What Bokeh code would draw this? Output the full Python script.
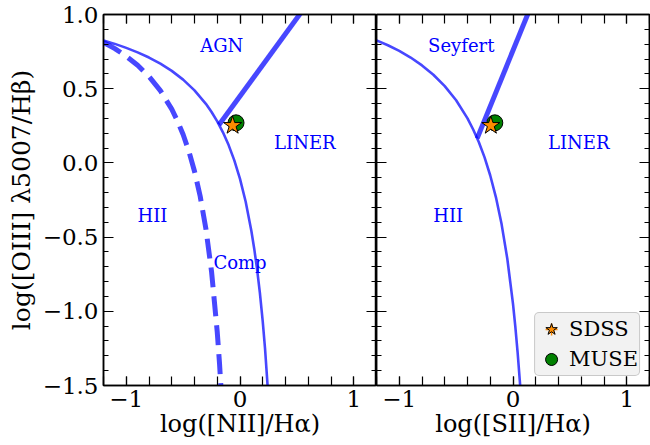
from bokeh.plotting import figure
from bokeh.layouts import row
from bokeh.models import (LinearAxis, SingleIntervalTicker, Label, Legend,
                          LegendItem, Range1d, CustomLabelingPolicy)
from bokeh.embed import file_html
from bokeh.resources import INLINE

# ---- demarcation curves -------------------------------------------------
# Kewley et al. (2001) maximum-starburst line, [NII] diagram
nii_kewley_x = [-1.2, -1.1, -1.0, -0.9, -0.8, -0.7, -0.6, -0.5, -0.4, -0.3,
                -0.25, -0.2, -0.15, -0.1, -0.05, 0.0, 0.05, 0.1, 0.125,
                0.15, 0.175, 0.2, 0.22, 0.25]
nii_kewley_y = [0.825, 0.802, 0.775, 0.745, 0.710, 0.669, 0.620, 0.561,
                0.489, 0.398, 0.343, 0.280, 0.206, 0.120, 0.017, -0.108,
                -0.262, -0.459, -0.578, -0.716, -0.878, -1.069, -1.250,
                -1.583]
# Kauffmann et al. (2003) star-forming boundary, [NII] diagram
nii_kauff_x = [-1.2, -1.1, -1.0, -0.9, -0.8, -0.7, -0.6, -0.55, -0.5, -0.45,
               -0.4, -0.35, -0.3, -0.25, -0.2, -0.18, -0.16]
nii_kauff_y = [0.812, 0.770, 0.719, 0.658, 0.582, 0.487, 0.362, 0.283,
               0.191, 0.080, -0.056, -0.225, -0.443, -0.733, -1.140,
               -1.352, -1.605]
# AGN / LINER division, [NII] diagram
nii_agn_x = [-0.184, 0.60]
nii_agn_y = [0.257, 1.08]
# Kewley et al. (2001) maximum-starburst line, [SII] diagram
sii_kewley_x = [-1.2, -1.1, -1.0, -0.9, -0.8, -0.7, -0.6, -0.5, -0.4, -0.35,
                -0.3, -0.25, -0.2, -0.15, -0.1, -0.05, 0.0, 0.02, 0.04,
                0.06, 0.07]
sii_kewley_y = [0.826, 0.793, 0.755, 0.710, 0.657, 0.594, 0.517, 0.422,
                0.300, 0.225, 0.139, 0.037, -0.085, -0.232, -0.414, -0.646,
                -0.950, -1.100, -1.271, -1.469, -1.580]
# Seyfert / LINER division, [SII] diagram
sii_seyfert_x = [-0.315, 0.15]
sii_seyfert_y = [0.165, 1.04]

# ---- measured line ratios ------------------------------------------------
sdss_log_nii = [-0.065]
sdss_log_sii = [-0.195]
sdss_log_oiii = [0.252]
muse_log_nii = [-0.035]
muse_log_sii = [-0.16]
muse_log_oiii = [0.27]

# ---- ticks ---------------------------------------------------------------
x_tick_values = [-1, 0, 1]
x_tick_labels = ["\u22121", "0", "1"]
y_tick_values = [1.0, 0.5, 0.0, -0.5, -1.0, -1.5]
y_tick_labels = ["1.0", "0.5", "0.0", "\u22120.5", "\u22121.0", "\u22121.5"]

FONT = "DejaVu Serif"
LINE_COLOR = "blue"
LINE_ALPHA = 0.72
X_RANGE = (-1.2, 1.2)
Y_RANGE = (-1.5, 1.0)
H = 445


def style_axis(ax, dim, labelled):
    if dim == "x":
        ax.ticker = SingleIntervalTicker(interval=1, num_minor_ticks=5)
        ax.major_tick_in, ax.minor_tick_in = 9, 9
        ax.major_label_overrides = dict(zip(x_tick_values, x_tick_labels))
        ax.axis_label_text_font_size = "24px"
    else:
        ax.ticker = SingleIntervalTicker(interval=0.5, num_minor_ticks=5)
        ax.major_tick_in, ax.minor_tick_in = 10, 5
        ax.major_label_overrides = dict(zip(y_tick_values, y_tick_labels))
        ax.axis_label_text_font_size = "25px"
    ax.major_tick_out = 0
    ax.minor_tick_out = 0
    ax.axis_line_color = "black"
    ax.axis_line_width = 1.5
    ax.major_tick_line_color = "black"
    ax.minor_tick_line_color = "black"
    ax.major_tick_line_width = 1.2
    ax.minor_tick_line_width = 1.2
    ax.major_label_text_font = FONT
    ax.major_label_text_color = "black"
    ax.axis_label_text_font = FONT
    ax.axis_label_text_font_style = "normal"
    ax.axis_label_text_color = "black"
    if labelled:
        ax.major_label_text_font_size = "23px"
        ax.major_label_standoff = 5
    else:
        # tick marks only: no tick labels on the mirrored spines
        ax.major_label_text_font_size = "0px"
        ax.major_label_standoff = 0
        ax.major_label_policy = CustomLabelingPolicy(code="return []")


def panel(width, border_left, border_right, xlabel, ylabel):
    p = figure(width=width, height=H, x_range=Range1d(*X_RANGE),
               y_range=Range1d(*Y_RANGE), output_backend="svg",
               toolbar_location=None, min_border_left=border_left,
               min_border_right=border_right, min_border_top=14,
               min_border_bottom=60)
    p.grid.visible = False
    p.outline_line_color = "black"
    p.outline_line_width = 1.5
    p.background_fill_color = "white"
    p.border_fill_color = "white"

    style_axis(p.xaxis[0], "x", True)
    p.xaxis[0].axis_label = xlabel
    p.xaxis[0].axis_label_standoff = 0
    style_axis(p.yaxis[0], "y", ylabel is not None)
    if ylabel is not None:
        p.yaxis[0].axis_label = ylabel
        p.yaxis[0].axis_label_standoff = 4

    top = LinearAxis()
    style_axis(top, "x", False)
    p.add_layout(top, "above")
    right = LinearAxis()
    style_axis(right, "y", False)
    p.add_layout(right, "right")
    return p


def region_label(p, x, y, text):
    p.add_layout(Label(x=x, y=y, text=text, text_align="center",
                       text_baseline="middle", text_color="blue",
                       text_font=FONT, text_font_size="18px"))


# ---- [NII] panel ---------------------------------------------------------
left = panel(376, 103, 0, "log([NII]/H\u03b1)",
             "log([OIII] \u03bb5007/H\u03b2)")
left.line(nii_kewley_x, nii_kewley_y, line_color=LINE_COLOR,
          line_alpha=LINE_ALPHA, line_width=2.6)
left.line(nii_kauff_x, nii_kauff_y, line_color=LINE_COLOR,
          line_alpha=LINE_ALPHA, line_width=5, line_dash="20 9")
left.line(nii_agn_x, nii_agn_y, line_color=LINE_COLOR,
          line_alpha=LINE_ALPHA, line_width=5)
left.scatter(muse_log_nii, muse_log_oiii, marker="circle", size=16,
             fill_color="green", line_color="black", line_width=1)
left.scatter(sdss_log_nii, sdss_log_oiii, marker="star", size=19,
             fill_color="darkorange", line_color="black", line_width=1)
region_label(left, -0.16, 0.79, "AGN")
region_label(left, 0.57, 0.14, "LINER")
region_label(left, -0.77, -0.355, "HII")
region_label(left, 0.0, -0.668, "Comp")

# ---- [SII] panel ---------------------------------------------------------
right = panel(274, 0, 1, "log([SII]/H\u03b1)", None)
right.line(sii_kewley_x, sii_kewley_y, line_color=LINE_COLOR,
           line_alpha=LINE_ALPHA, line_width=2.6)
right.line(sii_seyfert_x, sii_seyfert_y, line_color=LINE_COLOR,
           line_alpha=LINE_ALPHA, line_width=5)
# error-bar crosses: too small to see at the points, shown in the legend
muse_err = right.scatter(muse_log_sii, muse_log_oiii, marker="cross", size=0,
                         line_color="#2ca02c", line_width=1.5)
muse_pt = right.scatter(muse_log_sii, muse_log_oiii, marker="circle", size=16,
                        fill_color="green", line_color="black", line_width=1)
sdss_err = right.scatter(sdss_log_sii, sdss_log_oiii, marker="cross", size=0,
                         line_color="darkorange", line_width=1.5)
sdss_pt = right.scatter(sdss_log_sii, sdss_log_oiii, marker="star", size=19,
                        fill_color="darkorange", line_color="black",
                        line_width=1)
region_label(right, -0.455, 0.79, "Seyfert")
region_label(right, 0.578, 0.14, "LINER")
region_label(right, -0.57, -0.355, "HII")

legend = Legend(items=[LegendItem(label="SDSS", renderers=[sdss_err, sdss_pt]),
                       LegendItem(label="MUSE", renderers=[muse_err, muse_pt])],
                location="bottom_right", margin=9, padding=1, spacing=0,
                glyph_width=30, glyph_height=30, label_standoff=3,
                label_text_font=FONT, label_text_font_size="21px",
                label_text_color="black",
                background_fill_color="#f2f2f2", background_fill_alpha=1.0,
                border_line_color="#a0a0a0", border_line_width=1)
if "border_radius" in Legend.properties():
    legend.border_radius = 5
right.add_layout(legend)

layout = row(left, right)
open("out.html", "w").write(file_html(layout, INLINE))
